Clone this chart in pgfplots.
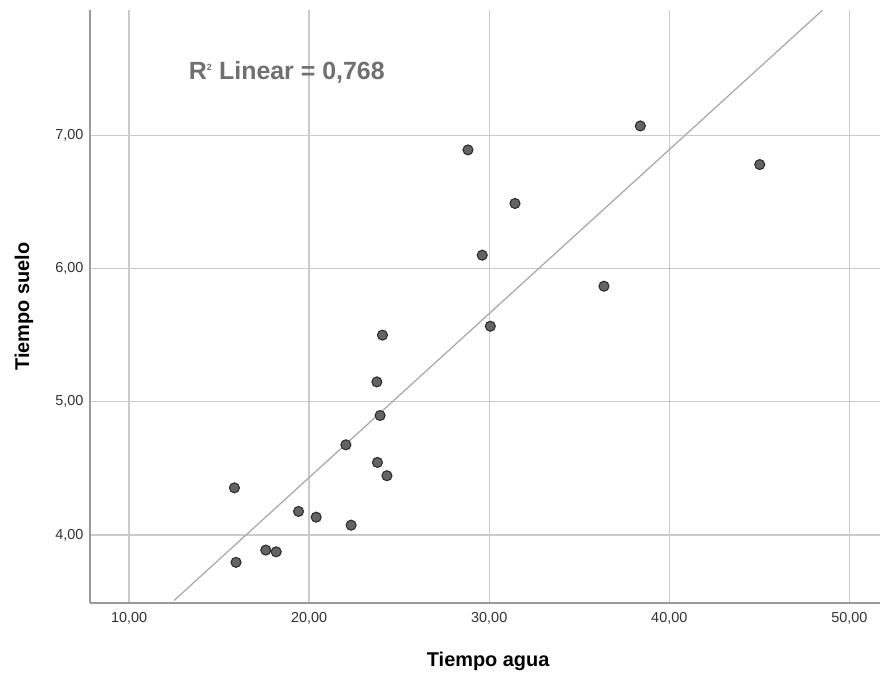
\documentclass[border=0pt]{standalone}
\usepackage{fontspec}
\setmainfont{Liberation Sans}
\usepackage{pgfplots}
\pgfplotsset{compat=1.18}
\definecolor{gridc}{HTML}{CACACA}
\definecolor{axisc}{HTML}{9A9A9A}
\definecolor{ptfill}{HTML}{646464}
\definecolor{ptdraw}{HTML}{2E2E2E}
\definecolor{fitc}{HTML}{ABABAB}
\definecolor{rtext}{HTML}{707070}

\begin{document}
\begin{tikzpicture}[x=1bp,y=1bp]
\useasboundingbox (0,0) rectangle (880,677);
\begin{axis}[
  at={(90bp,74bp)}, anchor=south west,
  scale only axis, width=790bp, height=593bp,
  xmin=7.83, xmax=51.7, ymin=3.49, ymax=7.94,
  axis x line*=bottom, axis y line*=left,
  axis line style={draw=axisc, line width=1.6pt},
  xtick={10,20,30,40,50}, ytick={4,5,6,7},
  major tick length=0pt,
  grid=major, major grid style={draw=gridc, line width=1.4pt},
  /pgf/number format/.cd, fixed, fixed zerofill, precision=2, use comma, assume math mode=true,
  /pgfplots/.cd,
  tick label style={font=\fontsize{14.5}{16}\selectfont, text=black!80},
  xticklabel style={yshift=-6bp},
  yticklabel style={xshift=-3bp},
  xlabel={Tiempo agua}, ylabel={Tiempo suelo},
  xlabel style={font=\fontsize{20}{24}\selectfont\bfseries, at={(axis description cs:0.504,-0.0985)}, anchor=center},
  ylabel style={font=\fontsize{20}{24}\selectfont\bfseries, at={(axis description cs:-0.0835,0.5)}, anchor=center, rotate=0},
  clip=true,
]
\addplot[draw=fitc, line width=1.3pt] coordinates {(12.5,3.509) (48.5,7.938)};
\addplot[only marks, mark=*, mark size=5bp, mark options={fill=ptfill, draw=ptdraw, line width=1.1pt}] coordinates {
(15.85,4.354) (15.94,3.795) (17.59,3.887) (18.17,3.874) (19.41,4.177)
(20.39,4.134) (22.33,4.074) (22.04,4.677) (23.79,4.545) (24.32,4.445)
(23.94,4.897) (23.76,5.149) (24.07,5.500) (30.06,5.567) (28.82,6.890)
(38.39,7.070) (45.02,6.780) (31.43,6.488) (29.61,6.100) (36.37,5.867)
};
\node[font=\fontsize{25}{30}\selectfont\bfseries, text=rtext, inner sep=2bp]
  at (axis description cs:0.249,0.894) {R\textsuperscript{\fontsize{9}{10}\selectfont 2} Linear = 0,768};
\end{axis}
\end{tikzpicture}
\end{document}
